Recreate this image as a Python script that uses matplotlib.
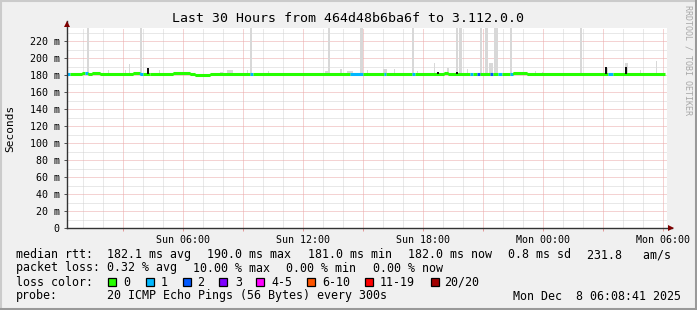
import matplotlib
matplotlib.use("Agg")
import matplotlib.pyplot as plt
from matplotlib.patches import Rectangle
from matplotlib.lines import Line2D

# ---------------- data ----------------
title = "Last 30 Hours from 464d48b6ba6f to 3.112.0.0"
y_label = "Seconds"
x_span_hours = 30.0
x_tick_hours = [5.8, 11.8, 17.8, 23.8, 29.8]
x_tick_labels = ["Sun 06:00", "Sun 12:00", "Sun 18:00", "Mon 00:00", "Mon 06:00"]
y_tick_values = [0, 20, 40, 60, 80, 100, 120, 140, 160, 180, 200, 220]
y_tick_labels = ["0"] + [f"{v} m" for v in y_tick_values[1:]]
y_max = 236

# median rtt (ms) as steps: start hour, value, loss count
median_start_h = [0.0, 0.15, 0.75, 0.9, 1.05, 1.25, 1.65, 3.3, 3.65, 3.8, 4.15, 5.3,
                  6.15, 6.4, 7.15, 9.15, 9.3, 14.15, 14.8, 15.85, 15.95, 17.25, 17.4,
                  18.85, 19.05, 20.15, 20.3, 20.5, 20.65, 21.15, 21.3, 21.55, 21.75,
                  22.15, 22.3, 23.0, 27.05, 27.3]
median_ms = [181.5, 181.5, 183, 183, 181, 183, 182, 183, 181.5, 182, 181.5, 183,
             182, 180.5, 182, 182, 182, 182, 182, 182, 182, 182, 182,
             183, 182, 182, 182, 182, 182, 182, 182, 182, 182,
             182, 183, 182, 182, 182]
median_loss = [1, 0, 0, 1, 0, 0, 0, 0, 1, 0, 0, 0,
               0, 0, 0, 1, 0, 1, 0, 1, 0, 1, 0,
               0, 0, 1, 0, 2, 0, 2, 0, 1, 0,
               1, 0, 0, 1, 0]
data_end_h = 29.9

# smoke (spread of pings): start hour, end hour, top (ms)
smoke_start_h = [1.0, 2.05, 2.9, 3.1, 3.65, 4.6, 7.65, 8.0, 9.0, 9.15, 10.05, 12.9, 13.05,
                 13.65, 14.0, 14.65, 15.0, 15.8, 16.35, 17.25, 17.5, 18.35, 19.0, 19.45,
                 19.6, 20.0, 20.65, 20.9, 21.1, 21.35, 22.15, 23.4, 23.75, 25.65, 26.9,
                 27.9, 28.65, 29.45]
smoke_end_h = [1.1, 2.1, 2.95, 3.15, 3.75, 4.65, 7.8, 8.3, 9.05, 9.25, 10.1, 13.05, 13.15,
               13.75, 14.3, 14.8, 15.05, 16.0, 16.4, 17.35, 17.55, 18.4, 19.1, 19.55,
               19.75, 20.05, 20.75, 21.05, 21.3, 21.55, 22.25, 23.45, 23.8, 25.75, 27.05,
               28.05, 28.7, 29.5]
smoke_top_ms = [240, 186, 186, 193, 240, 186, 184, 186, 186, 240, 185, 185, 240,
                188, 185, 240, 186, 188, 188, 240, 185, 194, 189, 240,
                240, 188, 240, 240, 195, 240, 240, 185, 184, 240, 189,
                194, 186, 197]
smoke_base_ms = 180.5

# black median marks
mark_h = [4.05, 18.55, 19.5, 26.95, 27.95]
mark_top_ms = [189, 183.5, 183.5, 190, 190]

loss_labels = ["0", "1", "2", "3", "4-5", "6-10", "11-19", "20/20"]
loss_colors = ["#26ff00", "#00b8ff", "#0059ff", "#7e00ff", "#ff00ff", "#ff5500", "#ff0000", "#a10000"]

row1 = [("median rtt:", 16), ("182.1 ms avg", 107.3), ("190.0 ms max", 207.4),
        ("181.0 ms min", 307.5), ("182.0 ms now", 407.6), ("0.8 ms sd", 507.7),
        ("231.8   am/s", 586.7)]
row2 = [("packet loss:", 16), ("0.32 % avg", 107.3), ("10.00 % max", 193.4),
        ("0.00 % min", 286.5), ("0.00 % now", 372.6)]
row3_label = "loss color:"
row3_box_x = [108.3, 145.7, 182.7, 219.3, 256, 307.3, 365, 431]
row3_text_x = [123.3, 161, 196.7, 235, 271.7, 322.7, 380, 444]
row4 = [("probe:", 16), ("20 ICMP Echo Pings (56 Bytes) every 300s", 107.3),
        ("Mon Dec  8 06:08:41 2025", 512.7)]

# ---------------- figure ----------------
W, H = 697, 310
MONO = "DejaVu Sans Mono"
fig = plt.figure(figsize=(W / 100, H / 100), dpi=100, facecolor="#f0f0f0")

def fx(x):
    return x / W

def fy(y):
    return 1 - y / H

# frame
fig.add_artist(Line2D([0, 1], [fy(1), fy(1)], transform=fig.transFigure, color="#cbcbcb", lw=1.5))
fig.add_artist(Line2D([fx(1), fx(1)], [0, 1], transform=fig.transFigure, color="#cbcbcb", lw=1.5))
fig.add_artist(Line2D([0, 1], [fy(308.5), fy(308.5)], transform=fig.transFigure, color="#999999", lw=2.2))
fig.add_artist(Line2D([fx(695.5), fx(695.5)], [0, 1], transform=fig.transFigure, color="#999999", lw=2.2))

L, R, T, B = 67, 667, 27.7, 228.3
ax = fig.add_axes([fx(L), fy(B), (R - L) / W, (B - T) / H])
ax.set_facecolor("white")
ax.set_xlim(0, x_span_hours)
ax.set_ylim(0, y_max)
for s in ax.spines.values():
    s.set_visible(False)

# grid
minor_c, major_c = "#d2d2d2", "#eba7a7"
h = 0.8
while h < x_span_hours:
    k = round((h - 0.8))
    col = major_c if k % 3 == 2 else minor_c
    ax.axvline(h, color=col, lw=0.72, ls=(0, (1, 1)), zorder=1 if col == minor_c else 1.5)
    h += 1.0
for v in range(10, y_max, 10):
    col = major_c if v % 20 == 0 else minor_c
    ax.axhline(v, color=col, lw=0.72, ls=(0, (1, 1)), zorder=1 if col == minor_c else 1.5)

# smoke
widths = [e - s for s, e in zip(smoke_start_h, smoke_end_h)]
heights = [t - smoke_base_ms for t in smoke_top_ms]
ax.bar(smoke_start_h, heights, width=widths, bottom=smoke_base_ms, align="edge",
       color="#d8d8d8", linewidth=0, zorder=2)

# median line
ends = median_start_h[1:] + [data_end_h]
for i, (s, e, v, l) in enumerate(zip(median_start_h, ends, median_ms, median_loss)):
    c = loss_colors[l]
    ax.plot([s, e], [v, v], color=c, lw=2.2, solid_capstyle="butt", zorder=3)
    if i > 0 and median_ms[i - 1] != v:
        ax.plot([s, s], [median_ms[i - 1], v], color=c, lw=1.0, zorder=3)

# black marks
ax.bar(mark_h, [t - 182 for t in mark_top_ms], width=0.1, bottom=182, align="center",
       color="#111111", linewidth=0, zorder=4)

# ticks
ax.set_yticks(y_tick_values)
ax.set_yticklabels(y_tick_labels, family=MONO, fontsize=7.2)
ax.tick_params(axis="y", length=2.2, width=0.72, color="#555555", pad=3)
major_x = [h for h in [2.8 + 3 * k for k in range(10)]]
ax.set_xticks(major_x)
lbls = []
for h in major_x:
    m = [lab for th, lab in zip(x_tick_hours, x_tick_labels) if abs(th - h) < 1e-6]
    lbls.append(m[0] if m else "")
ax.set_xticklabels(lbls, family=MONO, fontsize=7.2)
ax.tick_params(axis="x", length=2.5, width=0.72, color="#e39a9a", pad=2.5)

# axes lines + arrows
axc = "#333333"
ax.plot([0, 0], [0, 1 + (T - 21.5) / (B - T)], transform=ax.transAxes, color=axc,
        lw=1.0, clip_on=False, zorder=5)
ax.plot([0, (672 - L) / (R - L)], [0, 0], transform=ax.transAxes, color=axc,
        lw=1.0, clip_on=False, zorder=5)
ax.plot([0], [1 + (T - 23.5) / (B - T)], transform=ax.transAxes, marker="^", ms=5,
        color="#7f0000", clip_on=False, zorder=6, mew=0)
ax.plot([(671 - L) / (R - L)], [0], transform=ax.transAxes, marker=">", ms=5,
        color="#7f0000", clip_on=False, zorder=6, mew=0)

# title & labels
fig.text(fx(348), fy(19), title, family=MONO, fontsize=9.5, ha="center", va="center")
fig.text(fx(10), fy(128), y_label, family=MONO, fontsize=8, rotation=90, ha="center", va="center")
fig.text(fx(688), fy(60), "RRDTOOL / TOBI OETIKER", family=MONO, fontsize=6.0,
         rotation=-90, ha="center", va="center", color="#a8a8a8")

# legend rows
fs = 8.35
for txt, x in row1:
    fig.text(fx(x), fy(254.5), txt, family=MONO, fontsize=fs, ha="left", va="center")
for txt, x in row2:
    fig.text(fx(x), fy(268), txt, family=MONO, fontsize=fs, ha="left", va="center")
fig.text(fx(16), fy(282), row3_label, family=MONO, fontsize=fs, ha="left", va="center")
for bx, tx, lab, col in zip(row3_box_x, row3_text_x, loss_labels, loss_colors):
    fig.add_artist(Rectangle((fx(bx), fy(286)), 8 / W, 8 / H, transform=fig.transFigure,
                             facecolor=col, edgecolor="black", lw=0.9))
    fig.text(fx(tx), fy(282), lab, family=MONO, fontsize=fs, ha="left", va="center")
for txt, x in row4:
    fig.text(fx(x), fy(296), txt, family=MONO, fontsize=fs, ha="left", va="center")

fig.savefig("out.png", dpi=100, facecolor=fig.get_facecolor())
